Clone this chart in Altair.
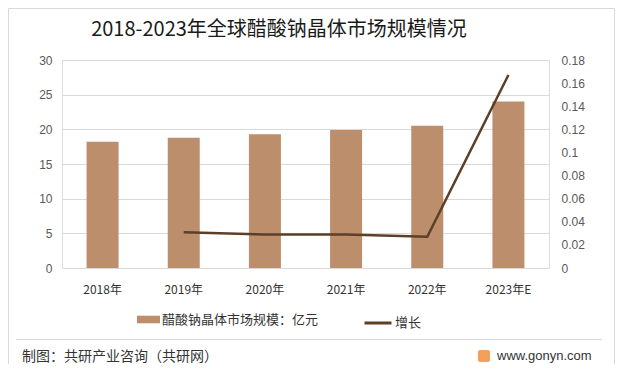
import altair as alt
import pandas as pd

years = ["2018年", "2019年", "2020年", "2021年", "2022年", "2023年E"]
market = [18.2, 18.8, 19.3, 19.9, 20.5, 24.0]
growth_years = ["2019年", "2020年", "2021年", "2022年", "2023年E"]
growth = [0.031, 0.029, 0.029, 0.027, 0.167]
bar_name = "醋酸钠晶体市场规模：亿元"
line_name = "增长"
title_text = "2018-2023年全球醋酸钠晶体市场规模情况"
footer_text = "制图：共研产业咨询（共研网）"
site_text = "www.gonyn.com"

FONT = "Noto Sans CJK SC"
BAR_C = "#BC8E6C"
LINE_C = "#5C3F27"

bars_df = pd.DataFrame({"year": years, "value": market, "series": bar_name})
line_df = pd.DataFrame({"year": growth_years, "value": growth, "series": line_name})

legend_common = dict(
    title=None, orient="none", direction="horizontal",
    labelFont=FONT, labelFontSize=13, labelColor="#333333", labelOffset=2,
)

xenc = alt.X(
    "year:N",
    sort=years,
    scale=alt.Scale(domain=years),
    axis=alt.Axis(
        title=None, labelAngle=0, domain=False, ticks=False, labelPadding=16,
        labelFont=FONT, labelFontSize=12, labelColor="#333333",
    ),
)

bars = alt.Chart(bars_df).mark_bar(size=32).encode(
    x=xenc,
    y=alt.Y(
        "value:Q",
        scale=alt.Scale(domain=[0, 30]),
        axis=alt.Axis(
            title=None, values=[0, 5, 10, 15, 20, 25, 30], domain=False, ticks=False,
            labelPadding=10, labelFont="Liberation Sans", labelFontSize=12, labelColor="#595959",
            grid=True, gridColor="#D9D9D9", gridWidth=1,
        ),
    ),
    fill=alt.Fill(
        "series:N",
        scale=alt.Scale(domain=[bar_name], range=[BAR_C]),
        legend=alt.Legend(
            legendX=75, legendY=248, symbolType="M-1,-0.33H1V0.33H-1Z", symbolSize=529,
            symbolStrokeWidth=0, **legend_common,
        ),
    ),
)

line = alt.Chart(line_df).mark_line(strokeWidth=2.5).encode(
    x=alt.X("year:N", sort=years, scale=alt.Scale(domain=years)),
    y=alt.Y(
        "value:Q",
        scale=alt.Scale(domain=[0, 0.18]),
        axis=alt.Axis(
            title=None, orient="right", values=[0, 0.02, 0.04, 0.06, 0.08, 0.1, 0.12, 0.14, 0.16, 0.18],
            format="~g", domain=False, ticks=False, grid=False, labelPadding=12,
            labelFont="Liberation Sans", labelFontSize=12, labelColor="#595959",
        ),
    ),
    stroke=alt.Stroke(
        "series:N",
        scale=alt.Scale(domain=[line_name], range=[LINE_C]),
        legend=alt.Legend(
            legendX=301, legendY=248, symbolType="stroke", symbolSize=729,
            symbolStrokeWidth=3, **legend_common,
        ),
    ),
)

one = pd.DataFrame({"k": [0]})
border = alt.Chart(one).mark_rect(fill=None, stroke="#D9D9D9", strokeWidth=1, clip=False).encode(
    x=alt.value(-53.5), x2=alt.value(552.5), y=alt.value(-51.5), y2=alt.value(310.5)
)
sep = alt.Chart(one).mark_rule(color="#D9D9D9", strokeWidth=1, clip=False).encode(
    x=alt.value(-46), x2=alt.value(540), y=alt.value(279.5)
)
title = alt.Chart(pd.DataFrame({"t": [title_text]})).mark_text(
    align="center", baseline="middle", font=FONT, fontSize=20, color="#1A1A1A", clip=False
).encode(x=alt.value(217), y=alt.value(-30), text="t:N")
footer_left = alt.Chart(pd.DataFrame({"t": [footer_text]})).mark_text(
    align="left", baseline="middle", font=FONT, fontSize=14, color="#333333", clip=False
).encode(x=alt.value(-40), y=alt.value(297), text="t:N")
footer_right = alt.Chart(pd.DataFrame({"t": [site_text]})).mark_text(
    align="left", baseline="middle", font="Liberation Sans", fontSize=13, color="#333333", clip=False
).encode(x=alt.value(435), y=alt.value(296), text="t:N")
icon = alt.Chart(one).mark_rect(color="#F5A05A", cornerRadius=2, clip=False).encode(
    x=alt.value(416), x2=alt.value(428), y=alt.value(290), y2=alt.value(302)
)

chart = (
    alt.layer(bars, line)
    .resolve_scale(y="independent")
    .properties(width=487, height=208)
)
chart = alt.layer(chart, border, sep, title, footer_left, footer_right, icon).properties(
    autosize=alt.AutoSizeParams(type="none"),
    padding={"left": 54, "top": 52, "right": 66, "bottom": 96},
).configure_view(stroke=None).configure(background="white")

chart.save("out.html", embed_options={"renderer": "svg", "actions": False})
